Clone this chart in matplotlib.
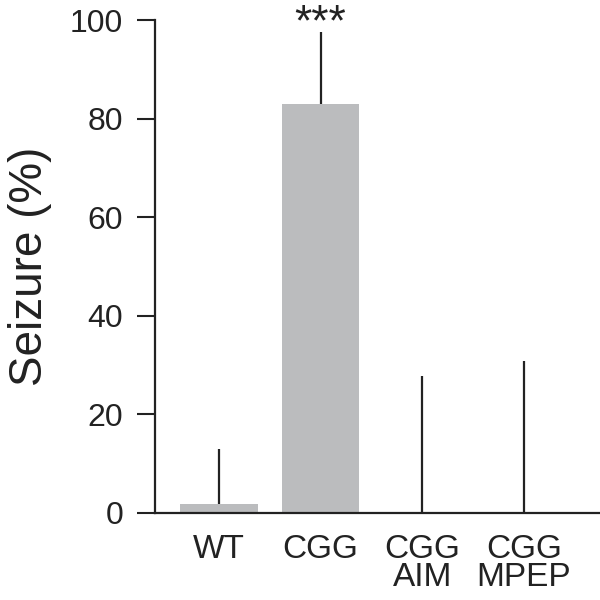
import numpy as np
import matplotlib.pyplot as plt

plt.rcParams['font.family'] = ['Liberation Sans', 'DejaVu Sans']

groups = ['WT', 'CGG', 'CGG\nAIM', 'CGG\nMPEP']
seizure = [1.8, 83.0, 0.0, 0.0]
err_up = [11.2, 14.6, 27.7, 30.8]

fig = plt.figure(figsize=(6, 6), dpi=100)
ax = fig.add_axes([155/600, 87/600, 445/600, 493/600])

x = np.arange(len(groups))
ax.bar(x, seizure, width=0.76, color='#bbbcbe', zorder=1)
ax.errorbar(x, seizure, yerr=[np.zeros(len(x)), err_up], fmt='none',
            ecolor='#222222', elinewidth=1.6, capsize=0, zorder=2)

# significance marker above CGG
ax.text(1, 96.8, '***', ha='center', va='baseline',
        fontsize=32, color='#222222', clip_on=False)

ax.set_xlim(-0.63, 3.75)
ax.set_ylim(0, 100)
ax.set_yticks([0, 20, 40, 60, 80, 100])
ax.set_xticks(x)
ax.set_xticklabels(groups, fontsize=24, linespacing=0.88)
ax.tick_params(axis='x', length=0, pad=15, colors='#222222')
ax.tick_params(axis='y', length=13, width=1.5, pad=10, labelsize=23, colors='#222222')
ax.set_ylabel('Seizure (%)', fontsize=33, color='#222222', labelpad=13)

for s in ['top', 'right']:
    ax.spines[s].set_visible(False)
for s in ['left', 'bottom']:
    ax.spines[s].set_linewidth(1.6)
    ax.spines[s].set_color('#222222')

fig.savefig('out.png', dpi=100)
